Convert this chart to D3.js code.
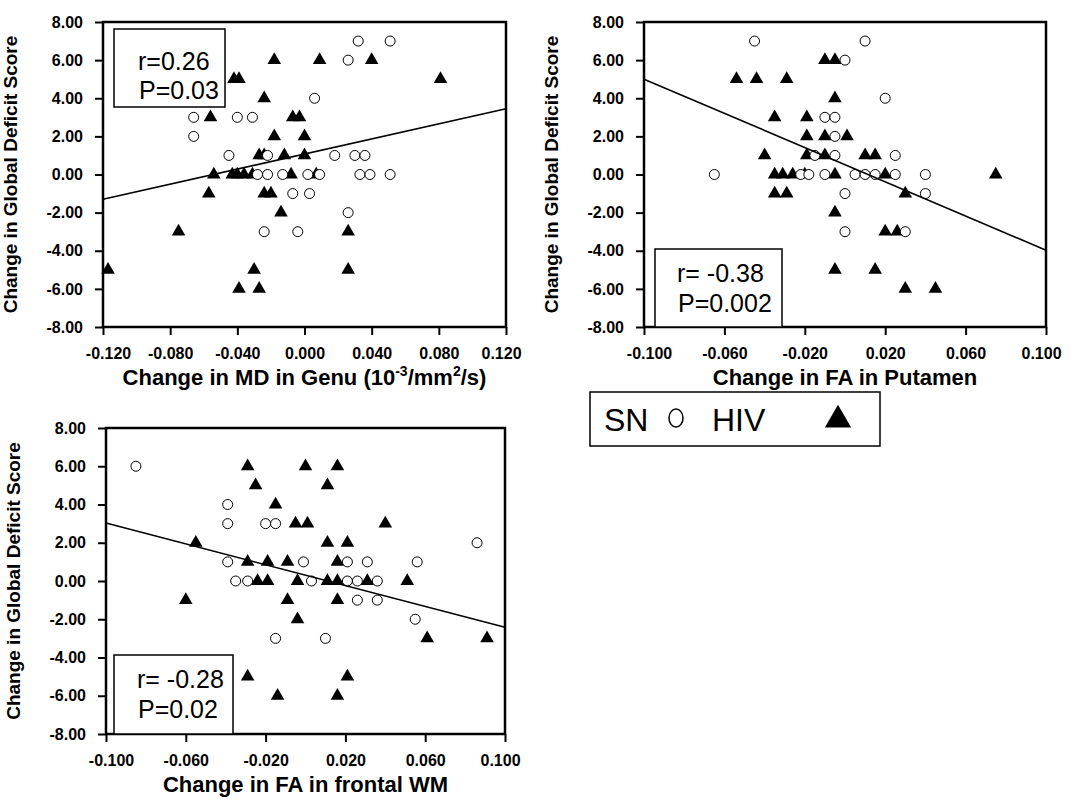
<!DOCTYPE html>
<html>
<head>
<meta charset="utf-8">
<script src="https://cdn.jsdelivr.net/npm/d3@7"></script>
<style>
  body { margin: 0; background: #fff; }
  svg { display: block; }
</style>
</head>
<body>
<svg id="chart" width="1077" height="806"></svg>
<script>
// ---- data ----
const yTicks = [8, 6, 4, 2, 0, -2, -4, -6, -8];
const genuXTicks = [-0.12, -0.08, -0.04, 0, 0.04, 0.08, 0.12];
const faXTicks = [-0.1, -0.06, -0.02, 0.02, 0.06, 0.1];

const genuSN = [
  [-0.066, 3], [-0.040, 3], [-0.031, 3], [-0.066, 2], [-0.045, 1], [-0.022, 1], [0.018, 1], [0.030, 1], [0.036, 1],
  [-0.028, 0], [-0.022, 0], [-0.013, 0], [0.002, 0], [0.009, 0], [0.033, 0], [0.039, 0], [0.051, 0],
  [0.032, 7], [0.051, 7], [0.026, 6], [0.006, 4],
  [-0.007, -1], [0.003, -1], [0.026, -2], [-0.024, -3], [-0.004, -3]
];
const genuHIV = [
  [-0.018, 6], [0.009, 6], [0.040, 6], [-0.042, 5], [-0.039, 5], [0.081, 5], [-0.024, 4],
  [-0.056, 3], [-0.007, 3], [-0.003, 3], [-0.018, 2], [0.000, 2],
  [-0.027, 1], [-0.024, 1], [-0.012, 1], [0.000, 1],
  [-0.054, 0], [-0.043, 0], [-0.040, 0], [-0.036, 0], [-0.031, 0], [-0.008, 0], [0.007, 0],
  [-0.057, -1], [-0.024, -1], [-0.020, -1], [-0.014, -2], [-0.075, -3], [0.026, -3],
  [-0.117, -5], [-0.030, -5], [0.026, -5], [-0.039, -6], [-0.027, -6]
];
const genuFit = [[-0.12, -1.3], [0.12, 3.45]];
const genuStats = ["r=0.26", "P=0.03"];

const putamenSN = [
  [-0.045, 7], [0.010, 7], [0.000, 6], [0.020, 4], [-0.010, 3], [-0.005, 3], [-0.005, 2],
  [-0.015, 1], [-0.005, 1], [0.025, 1],
  [-0.065, 0], [-0.022, 0], [-0.018, 0], [-0.010, 0], [0.005, 0], [0.010, 0], [0.015, 0], [0.025, 0], [0.040, 0],
  [0.000, -1], [0.040, -1], [0.000, -3], [0.030, -3]
];
const putamenHIV = [
  [-0.010, 6], [-0.005, 6], [-0.054, 5], [-0.044, 5], [-0.029, 5], [-0.005, 4],
  [-0.035, 3], [-0.019, 3], [-0.019, 2], [-0.010, 2], [0.001, 2],
  [-0.040, 1], [-0.019, 1], [-0.010, 1], [0.010, 1], [0.015, 1],
  [-0.035, 0], [-0.031, 0], [-0.026, 0], [-0.020, 0], [-0.005, 0], [0.020, 0], [0.075, 0],
  [-0.035, -1], [-0.029, -1], [0.030, -1], [-0.005, -2], [0.020, -3], [0.026, -3],
  [-0.005, -5], [0.015, -5], [0.030, -6], [0.045, -6]
];
const putamenFit = [[-0.1, 5.0], [0.1, -3.97]];
const putamenStats = ["r= -0.38", "P=0.002"];

const frontalSN = [
  [-0.085, 6], [-0.039, 4], [-0.039, 3], [-0.020, 3], [-0.015, 3], [-0.039, 1], [-0.001, 1],
  [0.021, 1], [0.031, 1], [0.056, 1], [0.086, 2],
  [-0.035, 0], [-0.029, 0], [0.003, 0], [0.021, 0], [0.026, 0], [0.036, 0],
  [0.026, -1], [0.036, -1], [0.055, -2], [-0.015, -3], [0.010, -3]
];
const frontalHIV = [
  [-0.029, 6], [0.000, 6], [0.016, 6], [-0.025, 5], [0.011, 5], [-0.015, 4],
  [-0.005, 3], [0.001, 3], [0.040, 3], [-0.055, 2], [0.011, 2], [0.021, 2],
  [-0.029, 1], [-0.019, 1], [-0.009, 1], [0.016, 1],
  [-0.024, 0], [-0.019, 0], [-0.004, 0], [0.011, 0], [0.016, 0], [0.031, 0], [0.051, 0],
  [-0.060, -1], [-0.009, -1], [0.016, -1], [-0.004, -2], [0.061, -3], [0.091, -3],
  [-0.029, -5], [0.021, -5], [-0.014, -6], [0.016, -6]
];
const frontalFit = [[-0.1, 3.03], [0.1, -2.42]];
const frontalStats = ["r= -0.28", "P=0.02"];

const yTitle = "Change in Global Deficit Score";
const legendLabels = ["SN", "HIV"];

// ---- layout ----
const FONT = "'Liberation Sans', Arial, Helvetica, sans-serif";
const svg = d3.select("#chart");
const locale = d3.formatLocale({ decimal: ".", thousands: ",", grouping: [3], minus: "-" });
const fmtY = locale.format(".2f");
const fmtX = locale.format(".3f");

const panels = [
  {
    sn: genuSN, hiv: genuHIV, fit: genuFit, stats: genuStats,
    xTicks: genuXTicks, xDomain: [-0.12, 0.12],
    left: 103, right: 506, top: 22, bottom: 327,
    title: [{ t: "Change in MD in Genu (10" }, { t: "-3", sup: true }, { t: "/mm" }, { t: "2", sup: true }, { t: "/s)" }],
    box: { x: 11, y: 7, w: 111, h: 78, anchor: "top", tx: 25, l1: 41, l2: 70 }
  },
  {
    sn: putamenSN, hiv: putamenHIV, fit: putamenFit, stats: putamenStats,
    xTicks: faXTicks, xDomain: [-0.1, 0.1],
    left: 644, right: 1046, top: 22, bottom: 327,
    title: [{ t: "Change in FA in Putamen" }],
    box: { x: 11, y: 0, w: 127, h: 78, anchor: "bottom", tx: 23, l1: 33, l2: 63 }
  },
  {
    sn: frontalSN, hiv: frontalHIV, fit: frontalFit, stats: frontalStats,
    xTicks: faXTicks, xDomain: [-0.1, 0.1],
    left: 106, right: 505, top: 428, bottom: 734,
    title: [{ t: "Change in FA in frontal WM" }],
    box: { x: 8, y: 0, w: 119, h: 79, anchor: "bottom", tx: 24, l1: 33, l2: 63 }
  }
];

const triangle = d3.symbol().type(d3.symbolTriangle).size(80);

panels.forEach((p) => {
  const x = d3.scaleLinear().domain(p.xDomain).range([p.left, p.right]);
  const y = d3.scaleLinear().domain([-8, 8]).range([p.bottom, p.top]);
  const g = svg.append("g");

  // frame
  g.append("rect")
    .attr("x", p.left).attr("y", p.top)
    .attr("width", p.right - p.left).attr("height", p.bottom - p.top)
    .attr("fill", "none").attr("stroke", "#000").attr("stroke-width", 2.5);

  // y axis
  const yAxis = d3.axisLeft(y).tickValues(yTicks).tickFormat(fmtY).tickSizeOuter(0).tickSize(8).tickPadding(12);
  const ya = g.append("g").attr("transform", `translate(${p.left},0)`).call(yAxis);
  ya.select(".domain").remove();
  ya.selectAll("line").attr("stroke-width", 2);
  ya.selectAll("text").attr("font-family", FONT).attr("font-weight", "bold").attr("font-size", 16);

  // x axis
  const xAxis = d3.axisBottom(x).tickValues(p.xTicks).tickFormat(fmtX).tickSizeOuter(0).tickSize(8).tickPadding(13);
  const xa = g.append("g").attr("transform", `translate(0,${p.bottom})`).call(xAxis);
  xa.select(".domain").remove();
  xa.selectAll("line").attr("stroke-width", 2);
  const last = p.xTicks.length - 1;
  xa.selectAll("text")
    .attr("font-family", FONT).attr("font-weight", "bold").attr("font-size", 16)
    .attr("dx", (d, i) => (i === 0 ? 5 : i === last ? -5 : 0));

  // axis titles
  const xt = g.append("text")
    .attr("x", (p.left + p.right) / 2).attr("y", p.bottom + 58)
    .attr("text-anchor", "middle")
    .attr("font-family", FONT).attr("font-weight", "bold").attr("font-size", 22);
  p.title.forEach((s) => {
    const ts = xt.append("tspan").text(s.t);
    if (s.sup) ts.attr("font-size", 14).attr("dy", -9);
    else if (xt.selectAll("tspan").size() > 1) ts.attr("dy", 9);
  });

  g.append("text")
    .attr("transform", `translate(${p.left - 86},${(p.top + p.bottom) / 2}) rotate(-90)`)
    .attr("text-anchor", "middle")
    .attr("font-family", FONT).attr("font-weight", "bold").attr("font-size", 19)
    .text(yTitle);

  // points
  g.append("g").selectAll("path")
    .data(p.hiv).join("path")
    .attr("d", triangle)
    .attr("transform", (d) => `translate(${x(d[0])},${y(d[1])})`)
    .attr("fill", "#000");

  g.append("g").selectAll("circle")
    .data(p.sn).join("circle")
    .attr("cx", (d) => x(d[0])).attr("cy", (d) => y(d[1]))
    .attr("r", 5)
    .attr("fill", "#fff").attr("stroke", "#000").attr("stroke-width", 1);

  // regression line
  g.append("path")
    .datum(p.fit)
    .attr("d", d3.line().x((d) => x(d[0])).y((d) => y(d[1])))
    .attr("fill", "none").attr("stroke", "#000").attr("stroke-width", 1.6);

  // stats box
  const b = p.box;
  const by = b.anchor === "top" ? p.top + b.y : p.bottom - b.h;
  g.append("rect")
    .attr("x", p.left + b.x).attr("y", by)
    .attr("width", b.w).attr("height", b.h)
    .attr("fill", "#fff").attr("stroke", "#000").attr("stroke-width", 1.5);
  p.stats.forEach((s, i) => {
    g.append("text")
      .attr("x", p.left + b.x + b.tx - (i === 0 ? 1 : 0))
      .attr("y", by + (i === 0 ? b.l1 : b.l2))
      .attr("font-family", FONT).attr("font-size", 25)
      .text(s);
  });
});

// legend
const lg = svg.append("g").attr("transform", "translate(590,392)");
lg.append("rect").attr("width", 290).attr("height", 54)
  .attr("fill", "#fff").attr("stroke", "#000").attr("stroke-width", 1.5);
lg.append("text").attr("x", 14).attr("y", 39)
  .attr("font-family", FONT).attr("font-size", 32).text(legendLabels[0]);
lg.append("ellipse").attr("cx", 86).attr("cy", 26).attr("rx", 7).attr("ry", 9)
  .attr("fill", "none").attr("stroke", "#000").attr("stroke-width", 1.5);
lg.append("text").attr("x", 122).attr("y", 39)
  .attr("font-family", FONT).attr("font-size", 32).text(legendLabels[1]);
lg.append("path").attr("d", d3.symbol().type(d3.symbolTriangle).size(300))
  .attr("transform", "translate(248,28)").attr("fill", "#000");
</script>
</body>
</html>
